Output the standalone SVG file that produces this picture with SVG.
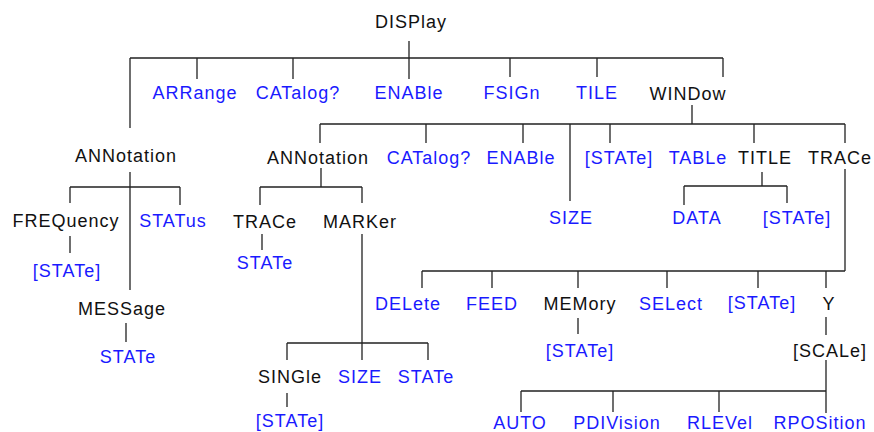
<svg xmlns="http://www.w3.org/2000/svg" width="874" height="432" viewBox="0 0 874 432">
<style>
text{font-family:"Liberation Sans",Arial,sans-serif;font-size:18px;letter-spacing:1px;text-anchor:middle}
.k{fill:#111}
.b{fill:#1a1aff}
.c{fill:none;stroke:#222;stroke-width:1.3}
</style>
<rect width="874" height="432" fill="#fff"/>
<g id="connectors" class="c">
<path d="M409,41V79M130,58H723M130,58V128M197,58V79M293,58V79M510,58V77M597,58V77M723,58V77"/>
<path d="M692,105V124M320,124H845M320,124V143M426,124V143M523,124V143M610,124V143M754,124V143M845,124V143M570,124V201"/>
<path d="M130,172V290M70,187H180M70,187V203M180,187V205M70,236V253M126,323V342"/>
<path d="M321,168V187M260,187H362M260,187V205M362,187V203M262,234V250M362,234V360M287,343H428M287,343V360M428,343V360M287,393V407"/>
<path d="M762,172V186M684,186H787M684,186V205M787,186V203"/>
<path d="M845,169V271M422,271H845M422,271V288M492,271V288M578,271V288M667,271V288M758,271V288M826,271V288M578,318V334M826,317V335"/>
<path d="M826,360V413M521,391H826M521,391V412M613,391V412M719,391V412"/>
</g>
<g id="display"><text class="k" x="411" y="28">DISPlay</text></g>
<g id="arrange"><text class="b" x="195" y="99">ARRange</text></g>
<g id="catalog1"><text class="b" x="298" y="99">CATalog?</text></g>
<g id="enable1"><text class="b" x="409" y="99">ENABle</text></g>
<g id="fsign"><text class="b" x="512" y="99">FSIGn</text></g>
<g id="tile"><text class="b" x="597" y="99">TILE</text></g>
<g id="window"><text class="k" x="688" y="100">WINDow</text></g>
<g id="annotation1"><text class="k" x="126" y="162">ANNotation</text></g>
<g id="frequency"><text class="k" x="66" y="227">FREQuency</text></g>
<g id="status"><text class="b" x="173" y="227">STATus</text></g>
<g id="freq-state"><text class="b" x="67" y="277">[STATe]</text></g>
<g id="message"><text class="k" x="122" y="315">MESSage</text></g>
<g id="msg-state"><text class="b" x="128" y="363">STATe</text></g>
<g id="annotation2"><text class="k" x="318" y="164">ANNotation</text></g>
<g id="catalog2"><text class="b" x="429" y="164">CATalog?</text></g>
<g id="enable2"><text class="b" x="521" y="164">ENABle</text></g>
<g id="win-state"><text class="b" x="619" y="164">[STATe]</text></g>
<g id="table"><text class="b" x="698" y="164">TABLe</text></g>
<g id="title"><text class="k" x="765" y="164">TITLE</text></g>
<g id="trace2"><text class="k" x="840" y="164">TRACe</text></g>
<g id="size1"><text class="b" x="571" y="224">SIZE</text></g>
<g id="data"><text class="b" x="697" y="224">DATA</text></g>
<g id="title-state"><text class="b" x="797" y="224">[STATe]</text></g>
<g id="trace1"><text class="k" x="265" y="228">TRACe</text></g>
<g id="marker"><text class="k" x="360" y="228">MARKer</text></g>
<g id="trace1-state"><text class="b" x="265" y="269">STATe</text></g>
<g id="delete"><text class="b" x="408" y="310">DELete</text></g>
<g id="feed"><text class="b" x="492" y="310">FEED</text></g>
<g id="memory"><text class="k" x="580" y="310">MEMory</text></g>
<g id="select"><text class="b" x="671" y="310">SELect</text></g>
<g id="trace2-state"><text class="b" x="762" y="309">[STATe]</text></g>
<g id="y"><text class="k" x="829" y="310">Y</text></g>
<g id="mem-state"><text class="b" x="580" y="357">[STATe]</text></g>
<g id="scale"><text class="k" x="830" y="357">[SCALe]</text></g>
<g id="single"><text class="k" x="290" y="383">SINGle</text></g>
<g id="size2"><text class="b" x="360" y="383">SIZE</text></g>
<g id="marker-state"><text class="b" x="426" y="383">STATe</text></g>
<g id="single-state"><text class="b" x="290" y="427">[STATe]</text></g>
<g id="auto"><text class="b" x="520" y="429">AUTO</text></g>
<g id="pdivision"><text class="b" x="617" y="429">PDIVision</text></g>
<g id="rlevel"><text class="b" x="720" y="429">RLEVel</text></g>
<g id="rposition"><text class="b" x="820" y="429">RPOSition</text></g>
</svg>
